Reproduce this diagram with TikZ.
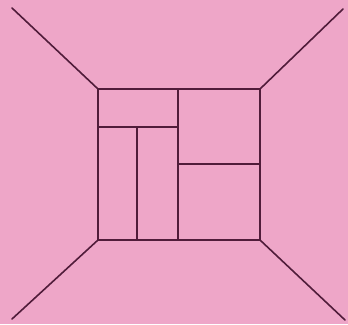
\documentclass[tikz,border=0pt]{standalone}
\definecolor{bg}{RGB}{238,166,200}
\definecolor{ln}{RGB}{80,28,58}
\tikzset{wall/.style={draw=ln,line width=1.6pt,line cap=round,line join=miter}}
\begin{document}
\begin{tikzpicture}[x=1pt,y=-1pt]
\fill[bg] (0,0) rectangle (348,324);
\useasboundingbox (0,0) rectangle (348,324);
\coordinate (tl) at (98,89);
\coordinate (tr) at (260,89);
\coordinate (bl) at (98,240);
\coordinate (br) at (260,240);
\coordinate (otl) at (12,8);
\coordinate (otr) at (343,9);
\coordinate (obl) at (12,319);
\coordinate (obr) at (345,320);
\draw[wall] (tl) rectangle (br);
\draw[wall] (tl) -- (otl);
\draw[wall] (tr) -- (otr);
\draw[wall] (bl) -- (obl);
\draw[wall] (br) -- (obr);
\coordinate (mt) at (178,89);
\coordinate (mb) at (178,240);
\draw[wall] (mt) -- (mb);
\coordinate (hl) at (98,127);
\coordinate (hr) at (178,127);
\draw[wall] (hl) -- (hr);
\coordinate (vt) at (137,127);
\coordinate (vb) at (137,240);
\draw[wall] (vt) -- (vb);
\coordinate (rl) at (178,164);
\coordinate (rr) at (260,164);
\draw[wall] (rl) -- (rr);
\end{tikzpicture}
\end{document}
